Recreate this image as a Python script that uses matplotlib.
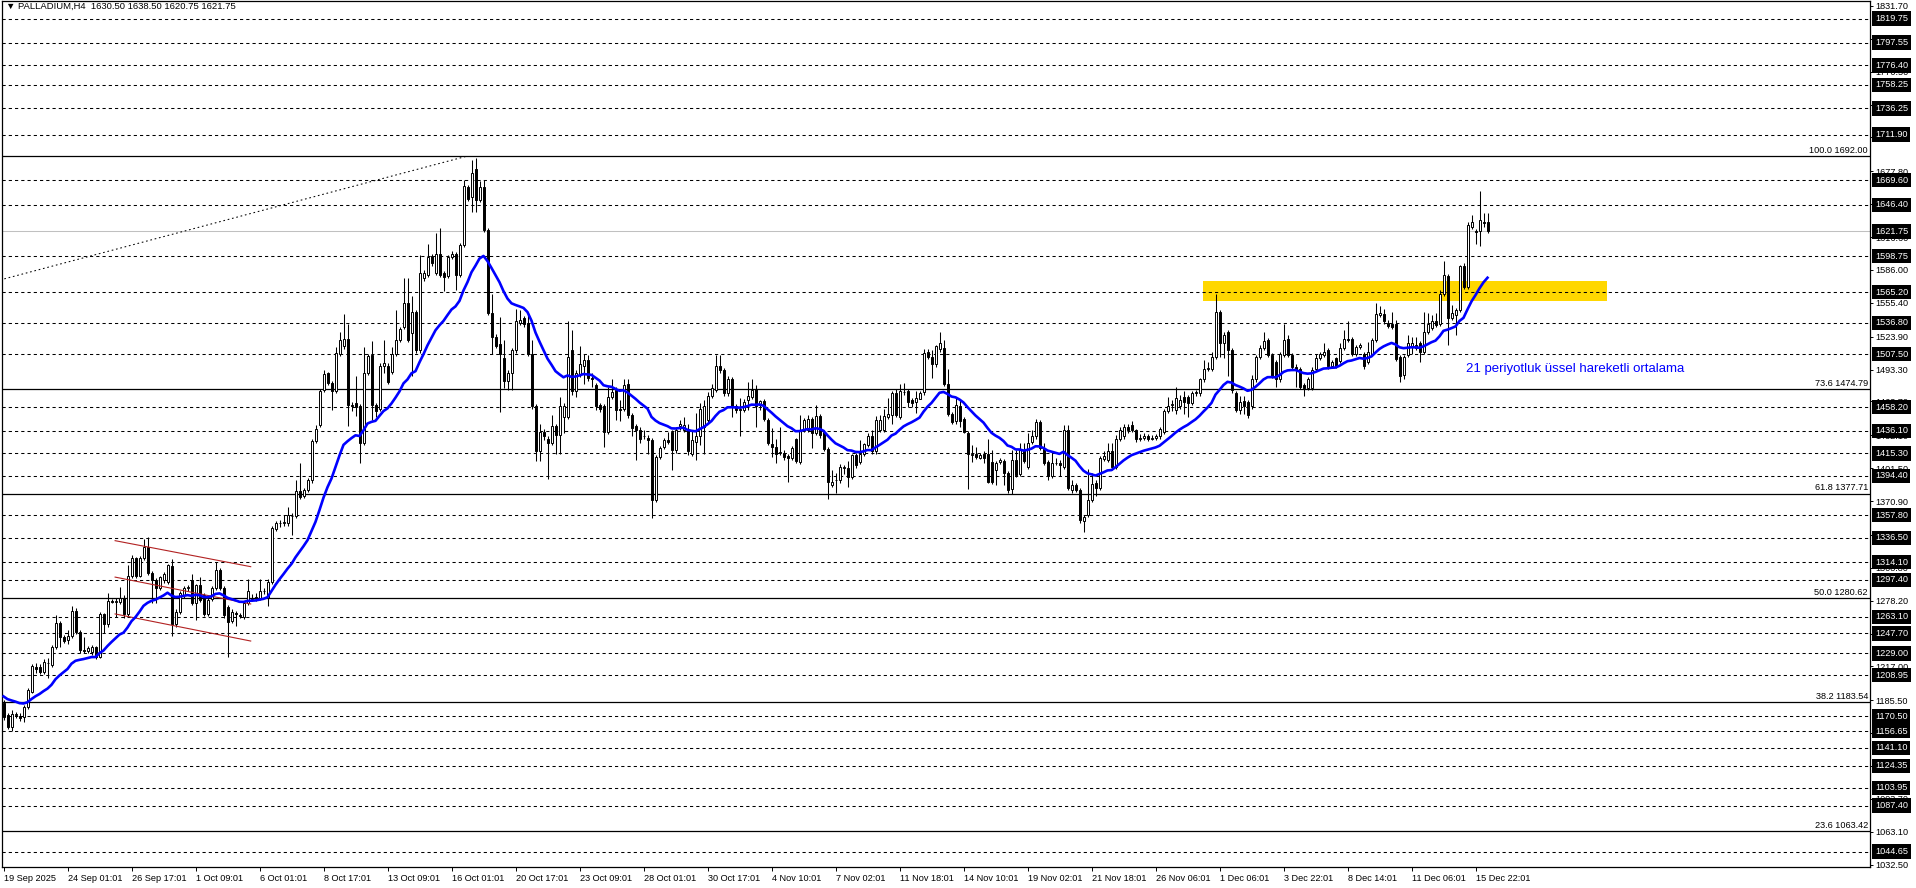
import matplotlib
matplotlib.use("Agg")
import matplotlib.pyplot as plt
import numpy as np
from matplotlib.transforms import blended_transform_factory
from matplotlib.patches import Rectangle

plt.rcParams['font.family'] = ['Liberation Sans', 'DejaVu Sans']
plt.rcParams['lines.scale_dashes'] = False

# ---------------- data (H4 candles, PALLADIUM) ----------------
opens = [
    1183,1172,1161,1172,1171,1170,1179,1193,1216,1216,
    1212,1220,1218,1235,1257,1244,1242,1245,1269,1249,
    1232,1231,1230,1235,1226,1266,1256,1278,1277,1277,
    1281,1266,1301,1318,1301,1318,1328,1304,1297,1290,
    1297,1296,1310,1256,1268,1283,1290,1297,1276,1293,
    1283,1266,1280,1290,1307,1290,1272,1259,1267,1265,
    1263,1276,1281,1282,1281,1287,1281,1296,1345,1350,
    1350,1350,1357,1357,1380,1376,1381,1390,1427,1442,
    1474,1490,1481,1473,1508,1515,1522,1460,1462,1459,
    1425,1490,1507,1460,1457,1497,1497,1491,1508,1521,
    1533,1555,1527,1547,1511,1578,1581,1599,1583,1601,
    1583,1580,1598,1601,1581,1609,1663,1654,1680,1651,
    1663,1623,1546,1524,1517,1504,1483,1490,1511,1537,
    1541,1537,1508,1459,1417,1435,1429,1425,1441,1432,
    1449,1449,1511,1473,1488,1497,1502,1485,1479,1460,
    1459,1435,1468,1474,1457,1457,1480,1451,1441,1437,
    1431,1430,1428,1372,1412,1421,1428,1435,1418,1441,
    1437,1438,1415,1426,1431,1440,1446,1469,1474,1497,
    1493,1471,1484,1459,1456,1456,1465,1468,1475,1460,
    1464,1446,1424,1421,1416,1416,1413,1411,1429,1407,
    1437,1437,1447,1434,1450,1435,1419,1386,1390,1390,
    1402,1402,1393,1414,1407,1415,1423,1431,1417,1437,
    1437,1449,1451,1471,1449,1472,1473,1465,1463,1466,
    1472,1510,1505,1498,1512,1513,1480,1452,1445,1459,
    1447,1434,1414,1415,1411,1415,1415,1407,1400,1407,
    1408,1397,1382,1409,1396,1418,1403,1426,1431,1444,
    1420,1407,1394,1406,1406,1403,1437,1381,1386,1381,
    1352,1358,1372,1388,1383,1410,1409,1417,1403,1429,
    1431,1440,1442,1437,1429,1430,1431,1429,1430,1431,
    1435,1455,1460,1456,1459,1468,1468,1462,1471,1471,
    1484,1494,1494,1505,1547,1518,1528,1511,1471,1456,
    1464,1463,1459,1484,1505,1513,1521,1507,1500,1484,
    1507,1522,1507,1496,1494,1479,1476,1476,1494,1504,
    1507,1511,1497,1504,1501,1513,1522,1522,1508,1514,
    1508,1500,1508,1521,1544,1545,1537,1536,1536,1505,
    1488,1507,1514,1516,1518,1510,1528,1532,1538,1536,
    1564,1580,1541,1544,1549,1590,1570,1626,1622,1622,
    1631,1630.50,
]
highs = [
    1186,1174,1176,1175,1174,1181,1197,1219,1220,1219,
    1224,1225,1237,1265,1259,1246,1251,1273,1271,1251,
    1244,1236,1237,1236,1268,1267,1285,1280,1281,1291,
    1283,1311,1321,1319,1320,1336,1337,1306,1299,1301,
    1305,1312,1317,1270,1287,1292,1293,1303,1294,1300,
    1285,1281,1292,1314,1309,1292,1274,1270,1269,1267,
    1278,1298,1284,1285,1298,1290,1298,1348,1352,1353,
    1358,1365,1360,1390,1406,1383,1392,1429,1442,1475,
    1493,1491,1483,1514,1528,1545,1536,1463,1487,1461,
    1514,1508,1520,1462,1499,1521,1499,1514,1549,1533,
    1578,1578,1562,1549,1600,1586,1610,1601,1620,1625,
    1585,1600,1604,1603,1611,1670,1665,1688,1690,1669,
    1670,1625,1564,1526,1542,1521,1493,1513,1550,1549,
    1543,1546,1521,1461,1443,1438,1431,1451,1443,1468,
    1462,1538,1530,1493,1515,1508,1507,1490,1481,1462,
    1461,1477,1484,1477,1465,1484,1484,1453,1443,1440,
    1437,1432,1430,1414,1422,1430,1435,1437,1440,1446,
    1449,1443,1437,1453,1462,1465,1472,1480,1507,1507,
    1495,1487,1486,1461,1467,1466,1482,1484,1479,1465,
    1466,1448,1439,1429,1440,1418,1415,1422,1430,1451,
    1448,1451,1449,1460,1452,1437,1421,1400,1397,1405,
    1404,1408,1415,1416,1428,1425,1434,1437,1450,1451,
    1457,1467,1473,1475,1480,1481,1475,1467,1473,1473,
    1512,1512,1511,1516,1528,1521,1494,1454,1467,1466,
    1449,1436,1423,1421,1416,1417,1429,1418,1408,1411,
    1410,1399,1418,1418,1425,1425,1434,1437,1447,1446,
    1425,1409,1417,1411,1409,1442,1442,1390,1388,1383,
    1358,1401,1397,1390,1413,1417,1425,1425,1432,1440,
    1443,1443,1445,1438,1433,1434,1433,1432,1433,1440,
    1457,1468,1465,1477,1470,1473,1470,1473,1474,1485,
    1502,1500,1510,1564,1549,1528,1530,1513,1473,1469,
    1469,1465,1488,1507,1516,1528,1523,1509,1502,1510,
    1536,1525,1509,1498,1496,1481,1486,1496,1508,1510,
    1518,1513,1502,1505,1518,1530,1538,1524,1516,1518,
    1510,1519,1523,1555,1552,1550,1539,1547,1539,1507,
    1507,1525,1524,1524,1520,1547,1546,1544,1546,1567,
    1594,1582,1553,1551,1591,1592,1631,1637,1624,1659,
    1639,1638.50,
]
lows = [
    1167,1159,1157,1169,1166,1165,1177,1192,1211,1210,
    1210,1206,1216,1233,1235,1239,1238,1243,1247,1229,
    1229,1229,1228,1224,1225,1248,1254,1276,1263,1275,
    1262,1264,1299,1299,1300,1316,1302,1276,1276,1288,
    1295,1294,1245,1254,1266,1281,1287,1274,1260,1277,
    1264,1264,1278,1288,1288,1262,1226,1257,1255,1262,
    1261,1274,1278,1278,1279,1284,1273,1294,1343,1347,
    1348,1348,1339,1355,1373,1374,1379,1388,1425,1440,
    1472,1479,1456,1471,1506,1512,1441,1455,1450,1406,
    1423,1488,1446,1449,1455,1490,1480,1489,1506,1519,
    1531,1519,1487,1509,1509,1576,1579,1590,1581,1579,
    1566,1578,1596,1567,1579,1607,1650,1640,1640,1649,
    1621,1544,1508,1513,1454,1476,1474,1474,1509,1535,
    1533,1506,1457,1408,1408,1428,1391,1423,1415,1415,
    1434,1447,1470,1468,1486,1480,1483,1477,1456,1454,
    1421,1433,1466,1446,1445,1455,1448,1431,1409,1425,
    1429,1415,1355,1370,1410,1419,1424,1400,1416,1437,
    1435,1414,1413,1409,1423,1415,1444,1467,1472,1490,
    1469,1469,1449,1453,1431,1454,1456,1466,1440,1456,
    1445,1423,1412,1406,1414,1409,1389,1409,1406,1405,
    1435,1435,1420,1432,1430,1417,1373,1384,1378,1388,
    1396,1384,1391,1402,1405,1413,1421,1415,1415,1435,
    1435,1447,1443,1449,1447,1470,1458,1458,1453,1466,
    1470,1503,1485,1496,1510,1478,1450,1443,1443,1440,
    1434,1382,1407,1410,1410,1406,1388,1387,1386,1405,
    1386,1378,1377,1393,1394,1406,1401,1424,1429,1418,
    1404,1390,1392,1404,1394,1401,1381,1378,1379,1350,
    1342,1356,1370,1376,1381,1408,1407,1400,1401,1427,
    1429,1434,1435,1426,1427,1428,1427,1428,1428,1429,
    1433,1453,1455,1452,1457,1452,1449,1460,1469,1469,
    1482,1492,1492,1503,1505,1504,1487,1471,1454,1452,
    1452,1448,1457,1482,1503,1511,1505,1485,1477,1482,
    1505,1505,1493,1477,1475,1469,1474,1474,1492,1502,
    1505,1494,1495,1495,1499,1511,1519,1506,1506,1512,
    1494,1498,1506,1519,1542,1536,1532,1531,1501,1482,
    1484,1505,1508,1511,1500,1508,1526,1530,1533,1534,
    1562,1516,1539,1525,1547,1568,1568,1624,1610,1608,
    1626,1620.75,
]
closes = [
    1170,1161,1173,1173,1169,1179,1195,1217,1215,1212,
    1221,1220,1235,1257,1244,1241,1245,1269,1249,1232,
    1231,1234,1235,1226,1266,1256,1278,1277,1278,1281,
    1266,1301,1318,1301,1318,1328,1304,1297,1290,1300,
    1303,1311,1256,1268,1285,1290,1291,1276,1293,1279,
    1266,1279,1290,1307,1290,1265,1258,1268,1266,1264,
    1276,1287,1280,1281,1287,1287,1296,1346,1350,1350,
    1351,1358,1357,1380,1375,1381,1390,1427,1438,1473,
    1489,1481,1473,1509,1521,1522,1460,1459,1458,1425,
    1490,1506,1460,1455,1497,1499,1482,1508,1521,1531,
    1555,1521,1547,1511,1583,1583,1598,1592,1601,1581,
    1579,1598,1601,1581,1609,1664,1652,1676,1651,1663,
    1623,1546,1524,1515,1508,1483,1490,1511,1538,1539,
    1536,1508,1459,1417,1435,1431,1425,1441,1432,1459,
    1459,1505,1473,1490,1498,1502,1485,1484,1459,1457,
    1435,1468,1472,1456,1456,1479,1451,1439,1437,1429,
    1431,1428,1372,1412,1420,1428,1426,1418,1437,1443,
    1442,1417,1428,1431,1457,1459,1469,1476,1497,1493,
    1471,1484,1459,1456,1456,1463,1469,1474,1459,1464,
    1447,1425,1421,1415,1416,1412,1411,1420,1408,1437,
    1446,1447,1434,1450,1432,1419,1389,1389,1390,1403,
    1402,1393,1414,1404,1415,1424,1431,1417,1446,1446,
    1450,1452,1471,1451,1473,1472,1463,1462,1467,1471,
    1509,1505,1498,1515,1518,1480,1452,1444,1460,1445,
    1435,1415,1415,1412,1414,1411,1389,1389,1406,1409,
    1397,1381,1409,1395,1418,1408,1425,1431,1444,1420,
    1406,1394,1406,1406,1404,1437,1383,1386,1381,1353,
    1356,1372,1387,1383,1411,1413,1417,1403,1429,1437,
    1440,1437,1437,1429,1430,1431,1429,1430,1431,1438,
    1455,1459,1461,1467,1465,1463,1462,1471,1472,1484,
    1494,1495,1505,1547,1518,1525,1511,1474,1456,1463,
    1459,1451,1484,1505,1513,1520,1507,1487,1484,1508,
    1521,1507,1496,1493,1477,1476,1484,1493,1504,1508,
    1510,1497,1500,1497,1513,1522,1521,1508,1514,1516,
    1497,1510,1521,1545,1546,1538,1534,1533,1503,1487,
    1505,1518,1518,1513,1510,1528,1536,1538,1535,1564,
    1581,1541,1546,1549,1590,1570,1628,1631,1621,1632,
    1630,1621.75,
]
assert len(opens) == len(highs) == len(lows) == len(closes)

x_labels = ["19 Sep 2025", "24 Sep 01:01", "26 Sep 17:01", "1 Oct 09:01", "6 Oct 01:01",
            "8 Oct 17:01", "13 Oct 09:01", "16 Oct 01:01", "20 Oct 17:01", "23 Oct 09:01",
            "28 Oct 01:01", "30 Oct 17:01", "4 Nov 10:01", "7 Nov 02:01", "11 Nov 18:01",
            "14 Nov 10:01", "19 Nov 02:01", "21 Nov 18:01", "26 Nov 06:01", "1 Dec 06:01",
            "3 Dec 22:01", "8 Dec 14:01", "11 Dec 06:01", "15 Dec 22:01"]
bars_per_label = 16

level_lines = [1819.75, 1797.55, 1776.40, 1758.25, 1736.25, 1711.90, 1669.60, 1646.40,
               1598.75, 1565.20, 1536.80, 1507.50, 1458.20, 1436.10, 1415.30, 1394.40,
               1357.80, 1336.50, 1314.10, 1297.40, 1263.10, 1247.70, 1229.00, 1208.95,
               1170.50, 1156.65, 1141.10, 1124.35, 1103.95, 1087.40, 1044.65]
scale_ticks = [1831.70, 1801.10, 1770.50, 1739.90, 1709.30, 1677.80, 1647.20, 1616.60,
               1586.00, 1555.40, 1523.90, 1493.30, 1463.70, 1432.10, 1401.50, 1370.90,
               1339.40, 1308.80, 1278.20, 1247.60, 1217.00, 1185.50, 1154.90, 1124.30,
               1093.70, 1063.10, 1032.50]
current_price = 1621.75

fib_names = ["100.0", "73.6", "61.8", "50.0", "38.2", "23.6"]
fib_values = [1692.00, 1474.79, 1377.71, 1280.62, 1183.54, 1063.42]

trend_start = (-0.875, 1576.6)
trend_end = (116.0, 1692.0)

channel_x = [27.9, 61.8]
channel_upper = [1334.0, 1309.8]
channel_mid = [1300.1, 1275.1]
channel_lower = [1265.8, 1240.6]

zone_x = [299.9, 400.8]
zone_price = [1557.3, 1575.7]

ema_period = 21
ema_seed = 1191.0

title = "\u25bc PALLADIUM,H4  1630.50 1638.50 1620.75 1621.75"
ema_note = "21 periyotluk \u00fcssel hareketli ortalama"

# ---------------- figure ----------------
W, H = 1916, 888
fig = plt.figure(figsize=(W / 100, H / 100), dpi=100)
ax_left, ax_right, ax_top, ax_bottom = 2, 1870, 1, 867
ax_w = ax_right - ax_left
ax = fig.add_axes([ax_left / W, (H - ax_bottom) / H, ax_w / W, (ax_bottom - ax_top) / H])

px_per_bar = 4.0
first_bar_px = 3.5
px_per_price = 1.0745
ref_price, ref_px = 1692.0, 156.0
ax.set_xlim((ax_left - first_bar_px) / px_per_bar, (ax_right - first_bar_px) / px_per_bar)
ax.set_ylim(ref_price - (ax_bottom - ref_px) / px_per_price, ref_price + (ref_px - ax_top) / px_per_price)

blend = blended_transform_factory(ax.transAxes, ax.transData)
fs = 6.6

# dashed level lines
for lv in level_lines:
    ax.axhline(lv, color='black', lw=0.75, linestyle=(0, (2.3, 2.2)), zorder=2)
# current price line
ax.axhline(current_price, color='#c0c0c0', lw=0.75, zorder=2)
# fibonacci levels
for nm, lv in zip(fib_names, fib_values):
    ax.axhline(lv, color='black', lw=0.9, zorder=2)
    ax.text(1 - 2 / ax_w, lv + 1.2, f"{nm} {lv:.2f}", transform=blend,
            ha='right', va='bottom', fontsize=fs, color='black', zorder=6)
# fib trend (dotted)
ax.plot([trend_start[0], trend_end[0]], [trend_start[1], trend_end[1]], color='black',
        lw=0.75, linestyle=(0, (1.2, 2.0)), zorder=2)

# yellow zone
ax.add_patch(Rectangle((zone_x[0], zone_price[0]), zone_x[1] - zone_x[0], zone_price[1] - zone_price[0],
                       facecolor='#FFD700', edgecolor='none', zorder=1))

# channel
for ys in (channel_upper, channel_mid, channel_lower):
    ax.plot(channel_x, ys, color='#b22222', lw=0.8, zorder=5)

# candles
o = np.array(opens, float); h = np.array(highs, float)
l = np.array(lows, float); c = np.array(closes, float)
xi = np.arange(len(c))
up = c >= o
ax.vlines(xi, l, h, color='black', lw=0.75, zorder=3)
body_low = np.minimum(o, c)
body_h = np.maximum(np.abs(c - o), 0.3)
ax.bar(xi, body_h, bottom=body_low, width=0.5, color=np.where(up, 'white', 'black'),
       edgecolor='black', linewidth=0.7, zorder=4)

# EMA 21
ema = []
prev = ema_seed
k = 2.0 / (ema_period + 1)
for v in closes:
    prev = prev + k * (v - prev)
    ema.append(prev)
ax.plot(xi, ema, color='#0000ff', lw=1.9, zorder=5)

ax.text(365.6, 1493.8, ema_note, color='#0000ff', fontsize=9.5, ha='left', va='center', zorder=6)

# title
ax.text(4 / ax_w, 1 - 5 / (ax_bottom - ax_top), title, transform=ax.transAxes,
        fontsize=6.8, ha='left', va='center', color='black', zorder=7)

# axes styling
for s in ax.spines.values():
    s.set_color('black'); s.set_linewidth(0.9)
ax.yaxis.tick_right()
ax.set_yticks(scale_ticks)
ax.set_yticklabels([f"{v:.2f}" for v in scale_ticks])
ax.tick_params(axis='y', which='both', right=True, left=False, length=2, width=0.7, pad=1.5,
               labelsize=fs, colors='black')
tick_pos = np.arange(len(x_labels)) * bars_per_label
ax.set_xticks(tick_pos)
ax.set_xticklabels(x_labels)
ax.tick_params(axis='x', length=3, width=0.7, pad=2, labelsize=fs, colors='black')
for t in ax.get_xticklabels():
    t.set_ha('left')

# boxed price labels (cover the scale labels they sit on)
for lv in level_lines + [current_price]:
    ax.text(1 + 5 / ax_w, lv, f"{lv:.2f}", transform=blend, color='white',
            fontsize=fs, ha='left', va='center', clip_on=False, zorder=10,
            bbox=dict(boxstyle='square,pad=0.3', fc='black', ec='none'))

fig.savefig('out.png', dpi=100, facecolor='white')
